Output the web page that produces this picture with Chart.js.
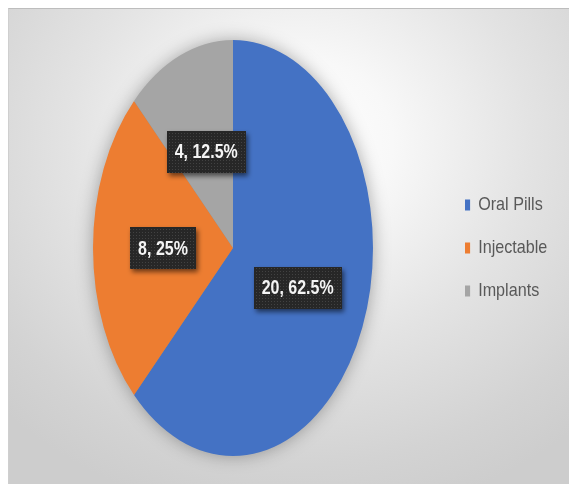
<!DOCTYPE html>
<html><head><meta charset="utf-8">
<script src="https://cdn.jsdelivr.net/npm/chart.js@4"></script>
<style>
html,body{margin:0;padding:0;background:#fff;}
#wrap{position:relative;width:569px;height:484px;overflow:hidden;}
#frame{position:absolute;left:8px;top:8px;right:0;bottom:0;border-top:1px solid #bdbdbd;border-left:1px solid #cfcfcf;
background:radial-gradient(ellipse 75% 80% at 52% 28%, #ffffff 0%, #f8f8f8 22%, #e3e3e3 55%, #d3d3d3 85%, #cdcdcd 100%);}
canvas{position:absolute;left:0;top:0;}
</style></head>
<body><div id="wrap"><div id="frame"></div><canvas id="c" width="569" height="484"></canvas></div>
<script>
const categories = ['Oral Pills', 'Injectable', 'Implants'];
const counts = [20, 8, 4];
const percentLabels = ['62.5%', '25%', '12.5%'];
const sliceColors = ['#4472C4', '#ED7D31', '#A5A5A5'];
const SQUISH = 0.673;      // horizontal squash of the pie
const LABEL_SX = 0.80;     // horizontal squash of data-label text
const LEGEND_SX = 0.85;    // horizontal squash of legend
const FONT = "'Liberation Sans', Arial, sans-serif";

function makePattern(ctx) {
  const pc = document.createElement('canvas');
  pc.width = 3; pc.height = 3;
  const p = pc.getContext('2d');
  p.fillStyle = '#272727'; p.fillRect(0, 0, 3, 3);
  p.fillStyle = '#424242'; p.fillRect(1, 1, 1, 1);
  return ctx.createPattern(pc, 'repeat');
}

const squishPlugin = {
  id: 'squish',
  beforeDraw(chart) {
    const lg = chart.legend;
    if (lg && !lg._squished) {
      const orig = lg.draw.bind(lg);
      lg.draw = function (area) {
        const ctx = chart.ctx;
        const ox = lg.left + lg.options.labels.padding;
        ctx.save();
        ctx.translate(ox, 0); ctx.scale(LEGEND_SX, 1); ctx.translate(-ox, 0);
        orig(area);
        ctx.restore();
      };
      lg._squished = true;
    }
  },
  beforeDatasetsDraw(chart) {
    const ctx = chart.ctx;
    const arc = chart.getDatasetMeta(0).data[0];
    const cx = arc.x;
    ctx.save();
    ctx.translate(cx, 0); ctx.scale(SQUISH, 1); ctx.translate(-cx, 0);
    ctx.save();
    ctx.shadowColor = 'rgba(0,0,0,0.35)';
    ctx.shadowBlur = 18;
    ctx.fillStyle = '#8a8a8a';
    ctx.beginPath(); ctx.arc(arc.x, arc.y, arc.outerRadius - 1, 0, Math.PI * 2); ctx.fill();
    ctx.restore();
  },
  afterDatasetsDraw(chart) {
    const ctx = chart.ctx;
    ctx.restore();
    const pattern = makePattern(ctx);
    const meta = chart.getDatasetMeta(0);
    meta.data.forEach((arc, i) => {
      const p = arc.getCenterPoint();
      const x = arc.x + (p.x - arc.x) * SQUISH;
      const y = p.y;
      const text = counts[i] + ', ' + percentLabels[i];
      ctx.font = 'bold 20px ' + FONT;
      const tw = ctx.measureText(text).width * LABEL_SX;
      const w = Math.round(tw + 16);
      const h = 42;
      ctx.save();
      ctx.shadowColor = 'rgba(0,0,0,0.55)';
      ctx.shadowBlur = 5; ctx.shadowOffsetX = 2; ctx.shadowOffsetY = 3;
      ctx.fillStyle = pattern;
      ctx.fillRect(Math.round(x - w / 2), Math.round(y - h / 2), w, h);
      ctx.restore();
      ctx.save();
      ctx.translate(x, y + 1);
      ctx.scale(LABEL_SX, 1);
      ctx.fillStyle = '#f4f4f4';
      ctx.textAlign = 'center';
      ctx.textBaseline = 'middle';
      ctx.fillText(text, 0, 0);
      ctx.restore();
    });
  }
};

new Chart(document.getElementById('c'), {
  type: 'pie',
  data: {
    labels: categories,
    datasets: [{ data: counts, backgroundColor: sliceColors, borderWidth: 0 }]
  },
  options: {
    responsive: false,
    animation: false,
    events: [],
    layout: { padding: { left: 25, top: 40, bottom: 28, right: 0 } },
    plugins: {
      tooltip: { enabled: false },
      legend: {
        position: 'right',
        align: 'center',
        maxWidth: 128,
        labels: {
          boxWidth: 6, boxHeight: 11, padding: 24,
          color: '#595959',
          font: { family: FONT, size: 19 }
        }
      }
    }
  },
  plugins: [squishPlugin]
});
</script>
</body></html>
